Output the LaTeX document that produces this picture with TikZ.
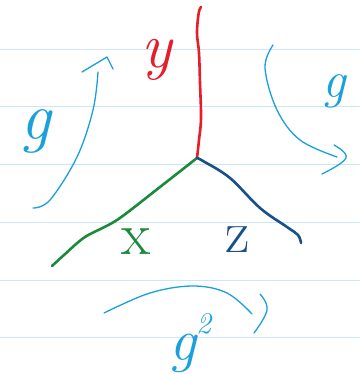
\documentclass[tikz,border=0pt]{standalone}
\begin{document}
\begin{tikzpicture}[x=1pt,y=-1pt,
  ruled/.style={draw=rulecol,line width=1pt},
  leg/.style={line width=2.6pt,line cap=round,line join=round},
  arrowline/.style={draw=pen,line width=1.3pt,line cap=round,line join=round},
  lbl/.style={inner sep=0pt,outer sep=0pt}]
\definecolor{rulecol}{HTML}{CCE6F8}
\definecolor{pen}{HTML}{1AA0DA}
\definecolor{redpen}{HTML}{E41E2B}
\definecolor{greenpen}{HTML}{1B8A3C}
\definecolor{bluepen}{HTML}{17508A}
\useasboundingbox[fill=white] (0,0) rectangle (360,374);
% ruled paper
\foreach \yy in {49.5,107,164.3,222,280,337.5} \draw[ruled] (0,\yy) -- (360,\yy);
% vertex and leg ends
\coordinate (v) at (197,158);
\coordinate (ytop) at (201,7);
\coordinate (xend) at (52,266);
\coordinate (zend) at (301,243);
% legs
\draw[leg,redpen] plot[smooth,tension=0.6] coordinates {(v) (199,140) (201,118) (200,83) (199,53) (197,33) (198.7,13) (ytop)};
\draw[leg,greenpen] plot[smooth,tension=0.5] coordinates {(v) (160,187) (117,220) (85,237) (64,255) (xend)};
\draw[leg,bluepen] plot[smooth,tension=0.6] coordinates {(v) (203,161) (230,178) (260,208) (287,227) (298,235) (zend)};
% labels of legs
\node[lbl,text=redpen,font=\fontsize{64}{64}\selectfont\itshape] (ylab) at (157,60) {y};
\node[lbl,text=greenpen,font=\fontsize{60}{60}\selectfont] (xlab) at (136,242) {x};
\node[lbl,text=bluepen,font=\fontsize{60}{60}\selectfont] (zlab) at (238,240) {z};
% left arrow
\coordinate (la1) at (33,208);
\coordinate (la2) at (98,72);
\draw[arrowline] plot[smooth,tension=0.6] coordinates {(la1) (50,200) (77,157) (93,110) (la2)};
\draw[arrowline] (82,72) -- (107,57) -- (113,69);
\node[lbl,text=pen,font=\fontsize{68}{68}\selectfont\itshape] (gl) at (36,131) {g};
% right arrow
\coordinate (ra1) at (273,45);
\coordinate (ra2) at (337,157);
\draw[arrowline] plot[smooth,tension=0.6] coordinates {(ra1) (265,68) (277,110) (300,140) (ra2)};
\draw[arrowline] plot[smooth,tension=0.7] coordinates {(334,145) (346,158) (322,174)};
\node[lbl,text=pen,font=\fontsize{52}{52}\selectfont\itshape] (gr) at (334,91) {g};
% bottom arrow
\coordinate (ba1) at (104,313);
\coordinate (ba2) at (252,314);
\draw[arrowline] plot[smooth,tension=0.6] coordinates {(ba1) (150,293) (193,286) (227,293) (ba2)};
\draw[arrowline] plot[smooth,tension=0.7] coordinates {(260,294) (267,310) (254,333)};
\node[lbl,text=pen,font=\fontsize{60}{60}\selectfont\itshape] (gb) at (190,343) {g\raisebox{0.45em}{\fontsize{30}{30}\selectfont 2}};
\end{tikzpicture}
\end{document}
